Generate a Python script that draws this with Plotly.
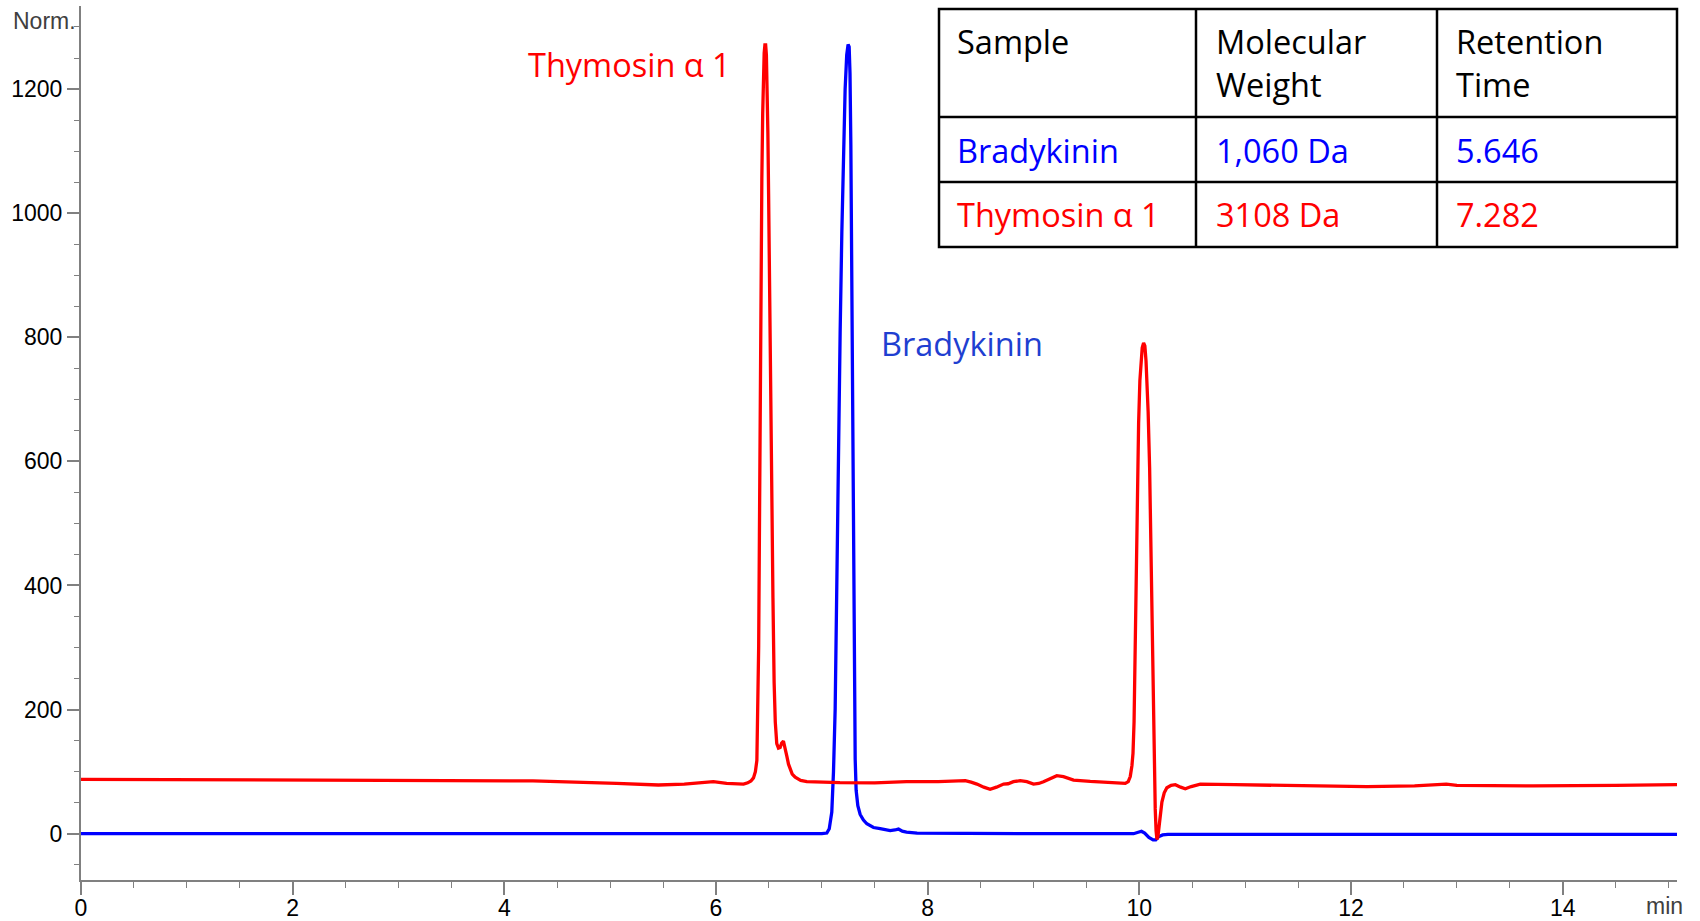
import plotly.graph_objects as go

# ---------------- data ----------------
thymosin_t = [0.0, 1.0, 2.07, 3.42, 4.27, 5.06, 5.455, 5.7, 5.975, 6.1, 6.26, 6.30, 6.33, 6.354, 6.372,
              6.386, 6.395, 6.403, 6.41, 6.417, 6.425, 6.433, 6.441, 6.448, 6.455, 6.462, 6.469,
              6.476, 6.483, 6.49, 6.497, 6.505, 6.515, 6.527, 6.538, 6.549, 6.56, 6.574, 6.59,
              6.606, 6.62, 6.637, 6.652, 6.669, 6.685, 6.70, 6.72, 6.748, 6.8, 6.858, 7.17, 7.5,
              7.8, 8.1, 8.355, 8.41, 8.465, 8.53, 8.59, 8.65, 8.717, 8.76, 8.81, 8.874, 8.937,
              9.0, 9.05, 9.094, 9.157, 9.22, 9.283, 9.378, 9.536, 9.694, 9.867, 9.895, 9.914,
              9.93, 9.94, 9.95, 9.96, 9.97, 9.98, 9.993, 10.005, 10.015, 10.027, 10.04, 10.052,
              10.063, 10.07, 10.083, 10.097, 10.108, 10.12, 10.13, 10.14, 10.15, 10.158, 10.166,
              10.175, 10.19, 10.213, 10.235, 10.26, 10.3, 10.34, 10.39, 10.434, 10.49, 10.576,
              10.9, 11.4, 11.9, 12.15, 12.6, 12.9, 13.0, 13.72, 14.5, 15.08]
thymosin_v = [87.6, 87.0, 86.5, 86.5, 85.0, 81.2, 78.5, 80.0, 83.8, 81.0, 80.0, 82.0, 85.0, 90.0, 100.0,
              118.0, 190.0, 300.0, 480.0, 700.0, 900.0, 1055.0, 1160.0, 1225.0, 1258.0, 1271.0, 1271.0,
              1255.0, 1210.0, 1130.0, 1030.0, 880.0, 700.0, 543.0, 380.0, 244.0, 180.0, 145.0, 138.0,
              139.0, 146.0, 149.0, 140.0, 125.0, 112.0, 104.0, 96.0, 91.0, 86.0, 84.0, 82.2, 82.0,
              83.8, 84.0, 85.4, 83.0, 80.0, 75.0, 71.5, 75.0, 80.0, 80.5, 83.8, 85.4, 83.8,
              80.0, 81.0, 83.8, 89.0, 93.5, 92.0, 86.5, 84.3, 83.3, 81.2, 84.0, 92.0,
              110.0, 130.0, 180.0, 300.0, 440.0, 560.0, 661.0, 730.0, 761.0, 783.0, 791.0, 786.0,
              762.0, 740.0, 680.0, 590.0, 470.0, 329.0, 210.0, 107.0, 40.0, 5.0, -9.0,
              -5.0, 20.0, 51.0, 66.0, 74.0, 78.0, 79.0, 75.0, 72.5, 76.0, 80.0,
              79.0, 78.0, 77.0, 75.8, 77.0, 80.0, 78.0, 77.0, 78.0, 79.0]

bradykinin_t = [0.0, 2.0, 4.0, 5.5, 7.0, 7.047, 7.07, 7.094, 7.11, 7.126, 7.14, 7.157, 7.173, 7.189,
                7.205, 7.22, 7.235, 7.248, 7.258, 7.266, 7.274, 7.283, 7.293, 7.30, 7.307, 7.315,
                7.324, 7.34, 7.362, 7.393, 7.425, 7.488, 7.551, 7.646, 7.69, 7.724, 7.76, 7.80,
                7.9, 8.43, 9.0, 9.945, 9.99, 10.02, 10.05, 10.09, 10.13, 10.155, 10.18, 10.22,
                10.27, 11.0, 12.0, 13.0, 14.0, 15.08]
bradykinin_v = [0.0, 0.0, 0.0, -0.5, 0.0, 1.0, 8.0, 35.0, 100.0, 202.0, 400.0, 628.0, 810.0, 970.0,
                1100.0, 1200.0, 1255.0, 1272.0, 1268.0, 1225.0, 1110.0, 850.0, 560.0, 350.0, 210.0, 120.0,
                70.0, 45.0, 31.0, 22.0, 16.0, 10.0, 8.0, 5.0, 6.0, 7.5, 4.0, 2.5,
                1.0, 0.0, 0.0, 0.0, 2.0, 4.0, 1.0, -6.0, -10.0, -10.0, -5.0, -2.0,
                -1.0, -1.0, -1.0, -1.0, -1.0, -1.0]

table_header = ["Sample", "Molecular<br>Weight", "Retention<br>Time"]
table_sample = ["Bradykinin", "Thymosin α 1"]
table_mw = ["1,060 Da", "3108 Da"]
table_rt = ["5.646", "7.282"]
row_colors = ["#0000FF", "#FF0000"]

peak_labels = ["Thymosin α 1", "Bradykinin"]
peak_label_colors = ["#FF0000", "#1F3FD1"]

# ---------------- layout geometry (pixels) ----------------
W, H = 1700, 921
L, R, T, B = 81, 1677, 6, 880


def px(x):
    return (x - L) / (R - L)


def py(y):
    return (B - y) / (B - T)


fig = go.Figure()
fig.add_trace(go.Scatter(x=bradykinin_t, y=bradykinin_v, mode="lines",
                         line=dict(color="#0000FF", width=3.3), name="Bradykinin"))
fig.add_trace(go.Scatter(x=thymosin_t, y=thymosin_v, mode="lines",
                         line=dict(color="#FF0000", width=3.3), name="Thymosin α 1"))

axis_color = "#808080"
tick_font = dict(family="Liberation Sans, Arial", size=23, color="#000000")
label_font = "Open Sans"
label_size = 32.5

annotations = []
# peak labels
annotations.append(dict(text=peak_labels[0], x=px(526), y=py(64.5), xref="paper", yref="paper",
                        xanchor="left", yanchor="middle", showarrow=False,
                        font=dict(family=label_font, size=label_size, color=peak_label_colors[0])))
annotations.append(dict(text=peak_labels[1], x=px(879), y=py(343.5), xref="paper", yref="paper",
                        xanchor="left", yanchor="middle", showarrow=False,
                        font=dict(family=label_font, size=label_size, color=peak_label_colors[1])))
# axis captions
annotations.append(dict(text="Norm.", x=px(78), y=py(21), xref="paper", yref="paper",
                        xanchor="right", yanchor="middle", showarrow=False,
                        font=dict(family="Liberation Sans, Arial", size=23, color="#404040")))
annotations.append(dict(text="min", x=px(1644), y=py(906), xref="paper", yref="paper",
                        xanchor="left", yanchor="middle", showarrow=False,
                        font=dict(family="Liberation Sans, Arial", size=23, color="#404040")))

# table
tab_left, tab_right = 939, 1677
col_edges = [939, 1196, 1437, 1677]
row_edges = [9, 117, 182, 247]
text_left = [955, 1214, 1454]
shapes = []
shapes.append(dict(type="rect", xref="paper", yref="paper",
                   x0=px(tab_left), x1=px(tab_right), y0=py(row_edges[0]), y1=py(row_edges[-1]),
                   line=dict(color="#000000", width=2.5), fillcolor="white", layer="above"))
for ce in col_edges[1:-1]:
    shapes.append(dict(type="line", xref="paper", yref="paper", x0=px(ce), x1=px(ce),
                       y0=py(row_edges[0]), y1=py(row_edges[-1]),
                       line=dict(color="#000000", width=2.5), layer="above"))
for re_ in row_edges[1:-1]:
    shapes.append(dict(type="line", xref="paper", yref="paper", x0=px(tab_left), x1=px(tab_right),
                       y0=py(re_), y1=py(re_), line=dict(color="#000000", width=2.5), layer="above"))

for ci, htxt in enumerate(table_header):
    for li, part in enumerate(htxt.split("<br>")):
        annotations.append(dict(text=part, x=px(text_left[ci]), y=py(41.5 + 43 * li),
                                xref="paper", yref="paper", xanchor="left", yanchor="middle",
                                showarrow=False, font=dict(family=label_font, size=label_size, color="#000000")))
row_mid = [150, 214.5]
for ri in range(len(table_sample)):
    for ci, val in enumerate([table_sample[ri], table_mw[ri], table_rt[ri]]):
        annotations.append(dict(text=val, x=px(text_left[ci]), y=py(row_mid[ri]),
                                xref="paper", yref="paper", xanchor="left", yanchor="middle",
                                showarrow=False, font=dict(family=label_font, size=label_size, color=row_colors[ri])))

fig.update_layout(
    width=W, height=H, autosize=False,
    margin=dict(l=L, r=W - R, t=T, b=H - B, pad=0, autoexpand=False),
    paper_bgcolor="white", plot_bgcolor="white",
    showlegend=False,
    xaxis=dict(range=[0, 15.08], showgrid=False, zeroline=False, showline=True, automargin=False,
               linecolor=axis_color, linewidth=2, ticks="outside", ticklen=13, tickwidth=1.5,
               tickcolor=axis_color, dtick=2, tick0=0, tickfont=tick_font, ticklabelstandoff=-7,
               minor=dict(ticks="outside", ticklen=6, tickwidth=1.2, tickcolor=axis_color, dtick=0.5)),
    yaxis=dict(range=[-74.6, 1333.8], showgrid=False, zeroline=False, showline=True, automargin=False,
               linecolor=axis_color, linewidth=2, ticks="outside", ticklen=12, tickwidth=1.5,
               tickcolor=axis_color, dtick=200, tick0=0, tickfont=tick_font,
               minor=dict(ticks="outside", ticklen=5, tickwidth=1.2, tickcolor=axis_color, dtick=50)),
    annotations=annotations,
    shapes=shapes,
)

fig.write_html("out.html", config={"displayModeBar": False},
               post_script="document.body.style.margin='0';document.body.style.padding='0';")
